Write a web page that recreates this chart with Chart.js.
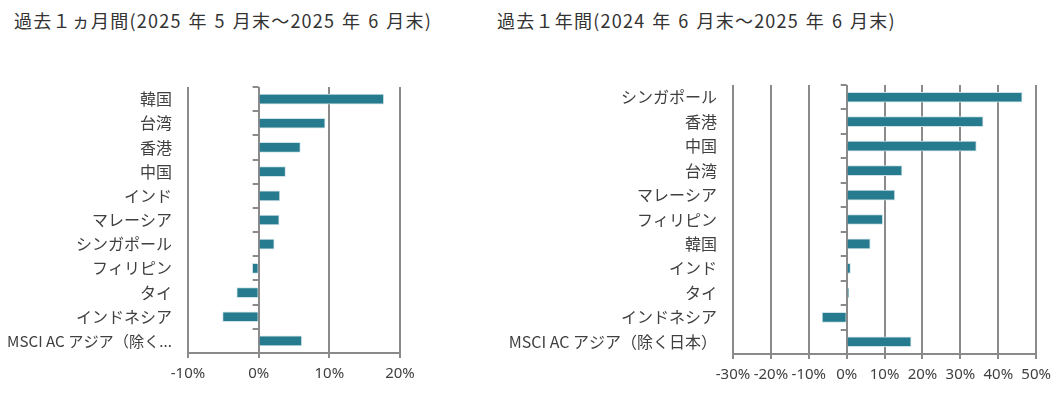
<!DOCTYPE html>
<html lang="ja">
<head>
<meta charset="utf-8">
<script src="https://cdn.jsdelivr.net/npm/chart.js@4"></script>
<style>
  body { margin: 0; background: #fff; width: 1058px; height: 397px; position: relative; overflow: hidden; }
  .titulo { position: absolute; top: 8px; font-family: "Noto Sans CJK JP"; font-size: 18px; line-height: 24px; letter-spacing: 1.25px; word-spacing: 1.5px; color: #333; white-space: nowrap; }
  .caja { position: absolute; top: 0; height: 397px; }
</style>
</head>
<body>
<div class="titulo" style="left:14px">過去１ヵ月間(2025 年 5 月末～2025 年 6 月末)</div>
<div class="titulo" style="left:497px">過去１年間(2024 年 6 月末～2025 年 6 月末)</div>
<div class="caja" style="left:0;width:440px"><canvas id="chartMes"></canvas></div>
<div class="caja" style="left:490px;width:568px"><canvas id="chartAnio"></canvas></div>
<script>
// Datos: último mes
const paisesMes = ['韓国', '台湾', '香港', '中国', 'インド', 'マレーシア', 'シンガポール', 'フィリピン', 'タイ', 'インドネシア', 'MSCI AC アジア（除く日本）'];
const valoresMes = [17.7, 9.4, 5.9, 3.8, 3.0, 2.9, 2.2, -0.9, -3.1, -5.1, 6.1];
const ticksMes = [-10, 0, 10, 20];

// Datos: último año
const paisesAnio = ['シンガポール', '香港', '中国', '台湾', 'マレーシア', 'フィリピン', '韓国', 'インド', 'タイ', 'インドネシア', 'MSCI AC アジア（除く日本）'];
const valoresAnio = [46.3, 36.0, 34.2, 14.6, 12.7, 9.5, 6.2, 1.0, 0.5, -6.5, 17.0];
const ticksAnio = [-30, -20, -10, 0, 10, 20, 30, 40, 50];

const colorBarra = '#267b8e';
const colorLinea = '#8a8a8a';
const colorTexto = '#404040';

// Pequeñas marcas sobre la línea del 0% entre categorías
const marcasCero = {
  id: 'marcasCero',
  beforeDatasetsDraw(chart) {
    const x = chart.scales.x.getPixelForValue(0);
    const y = chart.scales.y;
    const c = chart.ctx;
    c.save();
    c.strokeStyle = colorLinea;
    c.lineWidth = 2;
    for (let i = 0; i <= chart.data.labels.length; i++) {
      const py = Math.round(y.getPixelForValue(i - 0.5));
      c.beginPath();
      c.moveTo(x - 6, py);
      c.lineTo(x, py);
      c.stroke();
    }
    c.restore();
  }
};

function crearGrafico(id, etiquetas, valores, marcas, medidas) {
  return new Chart(document.getElementById(id).getContext('2d'), {
    type: 'bar',
    data: {
      labels: etiquetas,
      datasets: [{
        data: valores,
        backgroundColor: colorBarra,
        borderColor: '#cfe2e7',
        borderWidth: 1,
        barThickness: 10
      }]
    },
    options: {
      indexAxis: 'y',
      responsive: true,
      maintainAspectRatio: false,
      animation: false,
      layout: { padding: { top: medidas.arriba, right: medidas.derecha, bottom: 0, left: 0 } },
      plugins: { legend: { display: false }, tooltip: { enabled: false } },
      scales: {
        x: {
          min: marcas[0],
          max: marcas[marcas.length - 1],
          afterBuildTicks: (s) => { s.ticks = marcas.map(v => ({ value: v })); },
          afterFit: (s) => { s.height = medidas.alto; },
          grid: { color: colorLinea, lineWidth: 2, tickLength: 5 },
          border: { color: colorLinea, width: 2 },
          ticks: {
            padding: 7,
            maxRotation: 0,
            minRotation: 0,
            autoSkip: false,
            color: colorTexto,
            font: { family: 'Noto Sans', size: 15 },
            callback: (v) => v + '%'
          }
        },
        y: {
          afterFit: (s) => { s.width = medidas.ancho; },
          grid: { display: false, drawTicks: false },
          border: { display: false },
          ticks: {
            padding: 16,
            color: colorTexto,
            // la etiqueta recortada del gráfico mensual va un poco más pequeña para que quepa
            font: (ctx) => ({
              family: 'Noto Sans CJK JP',
              size: (medidas.cortar && ctx.index === etiquetas.length - 1) ? 15.2 : 16
            }),
            callback: function (v) {
              const t = this.getLabelForValue(v);
              return (medidas.cortar && t.length > 14) ? t.slice(0, 14) + '...' : t;
            }
          }
        }
      }
    },
    plugins: [marcasCero]
  });
}

crearGrafico('chartMes', paisesMes, valoresMes, ticksMes, { arriba: 87, derecha: 40, alto: 44, ancho: 188, cortar: true });
crearGrafico('chartAnio', paisesAnio, valoresAnio, ticksAnio, { arriba: 85, derecha: 21, alto: 43, ancho: 243, cortar: false });
</script>
</body>
</html>
